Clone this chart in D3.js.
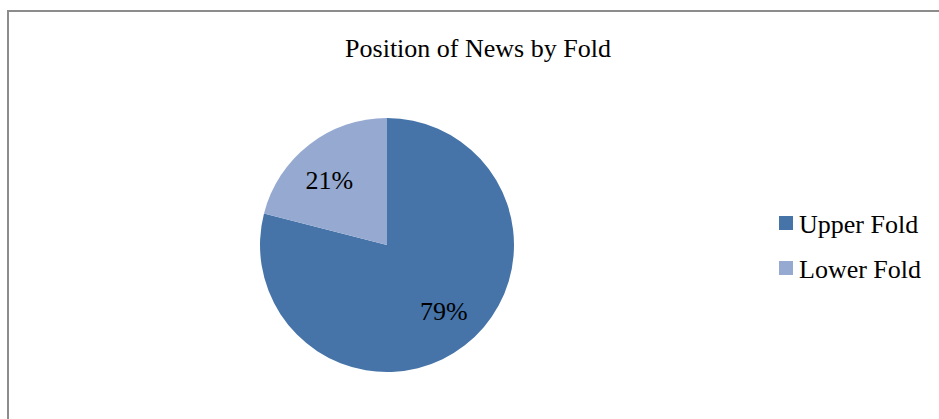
<!DOCTYPE html>
<html><head><meta charset="utf-8">
<script src="https://cdn.jsdelivr.net/npm/d3@7"></script>
<style>body{margin:0;background:#fff;overflow:hidden}text{font-family:"Liberation Serif","Times New Roman",serif;fill:#000}</style>
</head><body><svg id="c" width="939" height="419"></svg>
<script>
const title = "Position of News by Fold";
const categories = ["Upper Fold", "Lower Fold"];
const values = [79, 21];
const colors = ["#4674A9", "#95A9D1"];

const svg = d3.select("#c");
svg.append("rect").attr("x", 8).attr("y", 11).attr("width", 940).attr("height", 420)
  .attr("fill", "#fff").attr("stroke", "#8c8c8c").attr("stroke-width", 2);

svg.append("text").attr("x", 478).attr("y", 57).attr("text-anchor", "middle")
  .attr("font-size", 26).text(title);

const cx = 387, cy = 245, r = 127;
const pie = d3.pie().sort(null).value(d => d)(values);
const arc = d3.arc().innerRadius(0).outerRadius(r);
const labelArc = d3.arc().innerRadius(r * 0.69).outerRadius(r * 0.69);
const g = svg.append("g").attr("transform", `translate(${cx},${cy})`);
g.selectAll("path").data(pie).join("path").attr("d", arc).attr("fill", (d, i) => colors[i]);
g.selectAll("text").data(pie).join("text")
  .attr("transform", (d, i) => { const [x, y] = labelArc.centroid(d); return i === 0 ? `translate(${x + 3},${y - 3})` : `translate(${x - 4},${y + 4})`; })
  .attr("text-anchor", "middle").attr("dy", "0.35em").attr("font-size", 26)
  .text(d => d.data + "%");

const leg = svg.append("g").selectAll("g").data(categories).join("g")
  .attr("transform", (d, i) => `translate(779,${223 + i * 45})`);
leg.append("rect").attr("x", 0).attr("y", -7).attr("width", 14).attr("height", 14)
  .attr("fill", (d, i) => colors[i]);
leg.append("text").attr("x", 20).attr("y", 1).attr("dy", "0.35em").attr("font-size", 26).text(d => d);
</script></body></html>
